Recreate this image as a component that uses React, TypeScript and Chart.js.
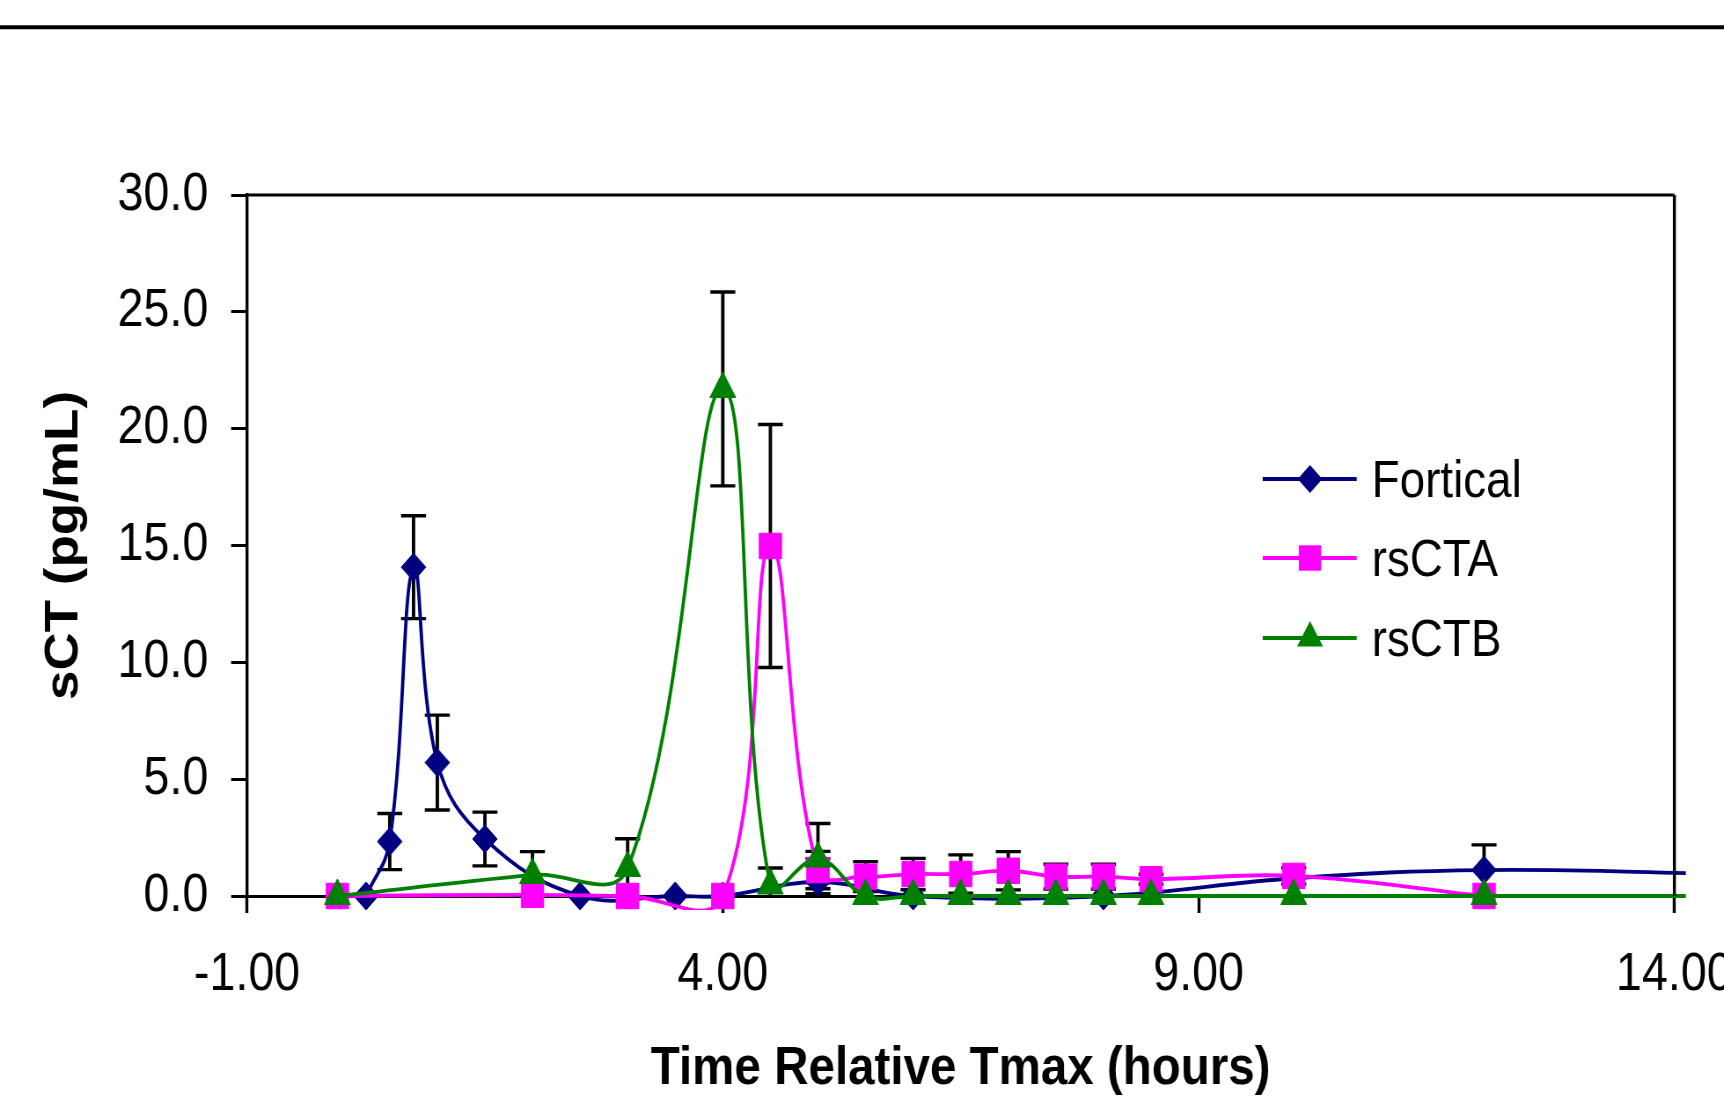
import { useEffect, useRef } from 'react';
import { Chart, registerables } from 'chart.js';

Chart.register(...registerables);

// ---- data ----
const seriesNames = ['Fortical', 'rsCTA', 'rsCTB'];
const seriesColors = ['#000080', '#FF00FF', '#008000'];

const fortTime = [0.25, 0.5, 0.75, 1.0, 1.5, 2.5, 3.5, 4.0, 5.0, 6.0, 8.0, 10.0, 12.0, 14.5];
const fortValue = [0, 2.33, 14.07, 5.71, 2.44, 0, 0, 0, 0.6, 0, 0, 0.76, 1.11, 0.95];
const fortSD = [0, 1.2, 2.2, 2.03, 1.15, 0, 0, 0, 1.0, 0, 0, 0, 1.08, 0];

const ctaTime = [-0.05, 2.0, 3.0, 4.0, 4.5, 5.0, 5.5, 6.0, 6.5, 7.0, 7.5, 8.0, 8.5, 10.0, 12.0];
const ctaValue = [0, 0.05, 0, 0, 14.98, 1.11, 0.83, 0.94, 0.94, 1.08, 0.83, 0.83, 0.72, 0.86, 0];
const ctaSD = [0, 0, 0, 0, 5.2, 0.8, 0.64, 0.67, 0.82, 0.82, 0.53, 0.53, 0.21, 0.35, 0];

const ctbTime = [-0.05, 2.0, 3.0, 4.0, 4.5, 5.0, 5.5, 6.0, 6.5, 7.0, 7.5, 8.0, 8.5, 10.0, 12.0, 14.5];
const ctbValue = [0, 0.9, 1.2, 21.7, 0.45, 1.6, 0, 0, 0, 0, 0, 0, 0, 0, 0, 0];
const ctbSD = [0, 1.0, 1.25, 4.15, 0.75, 1.5, 0, 0, 0, 0, 0, 0, 0, 0, 0, 0];

const xTickValues = [-1, 4, 9, 14];
const yTickValues = [0, 5, 10, 15, 20, 25, 30];
const xTitle = 'Time Relative Tmax (hours)';
const yTitle = 'sCT (pg/mL)';

// ---- layout ----
const K = 0.88; // horizontal squeeze of the reference picture
const CANVAS_W = 2000;
const CANVAS_H = 1102;
const FONT = "'Liberation Sans', Arial, Helvetica, sans-serif";
const LINE_W = 3.8;

const times = [fortTime, ctaTime, ctbTime];
const values = [fortValue, ctaValue, ctbValue];
const sds = [fortSD, ctaSD, ctbSD];
const markers = ['rectRot', 'rect', 'triangle'];
const markerRadius = [14, 18, 17];
const drawOrder = [3, 2, 1];

function drawMarker(ctx: CanvasRenderingContext2D, style: string, x: number, y: number, r: number) {
  ctx.beginPath();
  if (style === 'rectRot') {
    ctx.moveTo(x - r, y);
    ctx.lineTo(x, y - r);
    ctx.lineTo(x + r, y);
    ctx.lineTo(x, y + r);
  } else if (style === 'rect') {
    const s = Math.SQRT1_2 * r;
    ctx.rect(x - s, y - s, 2 * s, 2 * s);
  } else {
    ctx.moveTo(x, y - r);
    ctx.lineTo(x + 0.866 * r, y + 0.5 * r);
    ctx.lineTo(x - 0.866 * r, y + 0.5 * r);
  }
  ctx.closePath();
  ctx.fill();
}

const errorBarsPlugin = {
  id: 'errorBars',
  beforeDatasetsDraw(chart: any) {
    const { ctx, chartArea: a, scales } = chart;
    const xs = scales.x;
    const ys = scales.y;
    ctx.save();
    ctx.beginPath();
    ctx.rect(a.left - 20, a.top - 20, a.right - a.left + 40, a.bottom - a.top + 21);
    ctx.clip();
    ctx.strokeStyle = '#000';
    const half = 12.5 / K;
    sds.forEach((sd, i) => {
      sd.forEach((e, j) => {
        if (!e) return;
        const px = xs.getPixelForValue(times[i][j]);
        const top = ys.getPixelForValue(values[i][j] + e);
        const bot = ys.getPixelForValue(values[i][j] - e);
        ctx.lineWidth = 3.4 / K;
        ctx.beginPath();
        ctx.moveTo(px, top);
        ctx.lineTo(px, bot);
        ctx.stroke();
        ctx.lineWidth = 3.4;
        ctx.beginPath();
        ctx.moveTo(px - half, top);
        ctx.lineTo(px + half, top);
        ctx.moveTo(px - half, bot);
        ctx.lineTo(px + half, bot);
        ctx.stroke();
      });
    });
    ctx.restore();
  },
};

const framePlugin = {
  id: 'frameAndLegend',
  afterDraw(chart: any) {
    const { ctx, chartArea: a } = chart;
    ctx.save();
    ctx.strokeStyle = '#000';
    ctx.lineWidth = 3;
    ctx.beginPath();
    ctx.moveTo(a.left, a.top);
    ctx.lineTo(a.right, a.top);
    ctx.stroke();
    ctx.lineWidth = 3 / K;
    ctx.beginPath();
    ctx.moveTo(a.right, a.top);
    ctx.lineTo(a.right, a.bottom);
    ctx.stroke();
    // rule at the top of the page
    ctx.lineWidth = 4;
    ctx.beginPath();
    ctx.moveTo(0, 27.3);
    ctx.lineTo(chart.width, 27.3);
    ctx.stroke();

    // legend
    const lx0 = 1262.7 / K;
    const lx1 = 1356.7 / K;
    const mx = 1310 / K;
    const tx = 1371.7 / K;
    const rowY = [479, 558, 638];
    ctx.font = `52px ${FONT}`;
    ctx.textBaseline = 'alphabetic';
    ctx.textAlign = 'left';
    seriesNames.forEach((name, i) => {
      const y = rowY[i];
      ctx.strokeStyle = seriesColors[i];
      ctx.lineWidth = LINE_W;
      ctx.beginPath();
      ctx.moveTo(lx0, y);
      ctx.lineTo(lx1, y);
      ctx.stroke();
      ctx.fillStyle = seriesColors[i];
      drawMarker(ctx, markers[i], mx, y, markerRadius[i]);
      ctx.fillStyle = '#000';
      ctx.fillText(name, tx, y + 17.5);
    });
    ctx.restore();
  },
};

export default function App() {
  const ref = useRef<HTMLCanvasElement | null>(null);

  useEffect(() => {
    if (!ref.current) return;
    Chart.defaults.font.family = FONT;
    Chart.defaults.color = '#000';
    const datasets = seriesNames.map((name, i) => ({
      label: name,
      data: times[i].map((t, j) => ({ x: t, y: values[i][j] })),
      borderColor: seriesColors[i],
      backgroundColor: seriesColors[i],
      pointBackgroundColor: seriesColors[i],
      pointBorderColor: seriesColors[i],
      pointBorderWidth: 1,
      pointStyle: markers[i],
      pointRadius: markerRadius[i],
      borderWidth: LINE_W,
      tension: 0.4,
      fill: false,
      order: drawOrder[i],
      clip: { left: 2, top: 2, right: 13, bottom: 14 },
    }));
    const chart = new Chart(ref.current, {
      type: 'line',
      data: { datasets } as any,
      options: {
        animation: false,
        responsive: false,
        devicePixelRatio: 1,
        events: [],
        layout: { padding: { top: 195, right: CANVAS_W - 1676 / K, left: 0, bottom: 0 } },
        elements: { line: { capBezierPoints: false } },
        plugins: { legend: { display: false }, tooltip: { enabled: false } },
        scales: {
          x: {
            type: 'linear',
            min: -1,
            max: 14,
            afterBuildTicks: (s: any) => {
              s.ticks = xTickValues.map((v) => ({ value: v }));
            },
            afterFit: (s: any) => {
              s.height = CANVAS_H - 896;
            },
            ticks: {
              callback: (v: any) => Number(v).toFixed(2),
              font: { size: 53 },
              color: '#000',
              padding: 31,
              maxRotation: 0,
              autoSkip: false,
            },
            grid: { drawOnChartArea: false, drawTicks: true, tickLength: 17, tickColor: '#000', tickWidth: 3 / K },
            border: { display: true, color: '#000', width: 3 },
            title: {
              display: true,
              text: xTitle,
              font: { size: 54, weight: 'bold' },
              color: '#000',
              padding: { top: 0, bottom: 0 },
            },
          },
          y: {
            type: 'linear',
            min: 0,
            max: 30,
            afterBuildTicks: (s: any) => {
              s.ticks = yTickValues.map((v) => ({ value: v }));
            },
            afterFit: (s: any) => {
              s.width = 247 / K;
            },
            ticks: {
              callback: (v: any) => Number(v).toFixed(1),
              font: { size: 53 },
              color: '#000',
              padding: 26,
            },
            grid: { drawOnChartArea: false, drawTicks: true, tickLength: 18, tickColor: '#000', tickWidth: 3 },
            border: { display: true, color: '#000', width: 3 / K },
            title: {
              display: true,
              text: yTitle,
              font: { size: 53, weight: 'bold' },
              color: '#000',
              padding: { top: 42, bottom: 0 },
            },
          },
        },
      } as any,
      plugins: [errorBarsPlugin, framePlugin],
    });
    return () => chart.destroy();
  }, []);

  return (
    <div
      style={{
        position: 'fixed',
        left: 0,
        top: 0,
        width: 1724,
        height: 1102,
        overflow: 'hidden',
        background: '#fff',
      }}
    >
      <div
        style={{
          width: CANVAS_W,
          height: CANVAS_H,
          transform: `scaleX(${K})`,
          transformOrigin: '0 0',
        }}
      >
        <canvas ref={ref} width={CANVAS_W} height={CANVAS_H} style={{ display: 'block' }} />
      </div>
    </div>
  );
}
